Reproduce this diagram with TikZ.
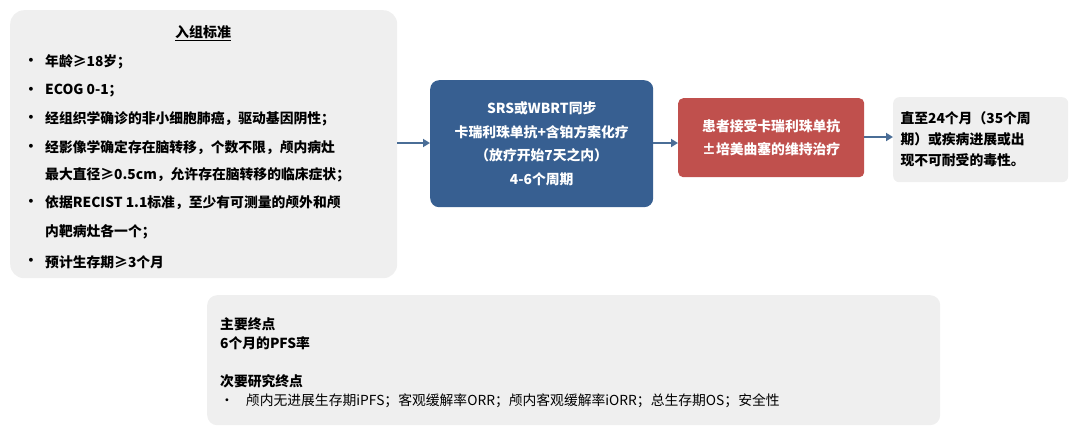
\documentclass[tikz,border=0pt]{standalone}
\usepackage{fontspec}
\setmainfont{Noto Sans CJK SC}
\usetikzlibrary{arrows.meta}
\definecolor{panel}{HTML}{EFEFEF}
\definecolor{bluebox}{HTML}{375F91}
\definecolor{redbox}{HTML}{C0504D}
\definecolor{arrowc}{HTML}{4A6D96}
\tikzset{x=1pt,y=-1pt,
 panelbox/.style={fill=panel,draw=none,rounded corners=14pt},
 txt/.style={font=\fontsize{13.8}{16}\selectfont\bfseries,anchor=west,inner sep=0},
 conn/.style={draw=arrowc,line width=2pt,-{Triangle[length=7pt,width=8pt]}}}
\begin{document}
\begin{tikzpicture}
\useasboundingbox (0,0) rectangle (1080,437);
\node[panelbox,minimum width=387pt,minimum height=268pt,anchor=north west] (inc) at (10,10) {};
\node[font=\fontsize{14}{16}\selectfont\bfseries,inner sep=0] (title) at (203,33) {\underline{入组标准}};
\foreach \y/\t in {62/年龄≥18岁；,91/ECOG 0-1；,119/经组织学确诊的非小细胞肺癌，驱动基因阴性；,148/经影像学确定存在脑转移，个数不限，颅内病灶,203/依据RECIST 1.1标准，至少有可测量的颅外和颅,262/预计生存期≥3个月}{
 \node[txt] at (24,\y) {•};
 \node[txt] at (45,\y) {\t};}
\node[txt] at (45,175) {最大直径≥0.5cm，允许存在脑转移的临床症状；};
\node[txt] at (45,232) {内靶病灶各一个；};
\node[fill=bluebox,rounded corners=9pt,minimum width=223pt,minimum height=127pt,anchor=north west] (blue) at (430,80) {};
\node[font=\fontsize{13.8}{23.5}\selectfont\bfseries,text=white,align=center] at (blue.center) {SRS或WBRT同步\\卡瑞利珠单抗+含铂方案化疗\\（放疗开始7天之内）\\4-6个周期};
\node[fill=redbox,rounded corners=5pt,minimum width=186pt,minimum height=79pt,anchor=north west] (red) at (678,98) {};
\node[font=\fontsize{13.8}{23}\selectfont\bfseries,text=white,align=center] at (red.center) {患者接受卡瑞利珠单抗\\±培美曲塞的维持治疗};
\node[panelbox,rounded corners=6pt,minimum width=175pt,minimum height=85pt,anchor=north west] (end) at (893,97) {};
\node[font=\fontsize{13.8}{21}\selectfont\bfseries,align=left,anchor=west] at (897,139) {直至24个月（35个周\\期）或疾病进展或出\\现不可耐受的毒性。};
\draw[conn] (inc.east |- 0,143) -- (blue.west |- 0,143);
\draw[conn] (blue.east |- 0,143) -- (red.west |- 0,143);
\draw[conn] (red.east |- 0,137) -- (end.west |- 0,137);
\node[panelbox,rounded corners=10pt,minimum width=733pt,minimum height=130pt,anchor=north west] (ep) at (207,295) {};
\node[txt] at (220,324) {主要终点};
\node[txt] at (220,343) {6个月的PFS率};
\node[txt] at (220,381) {次要研究终点};
\node[txt,font=\fontsize{13.8}{16}\selectfont] at (220,401) {•\hspace{12pt}颅内无进展生存期iPFS；客观缓解率ORR；颅内客观缓解率iORR；总生存期OS；安全性};
\end{tikzpicture}
\end{document}
